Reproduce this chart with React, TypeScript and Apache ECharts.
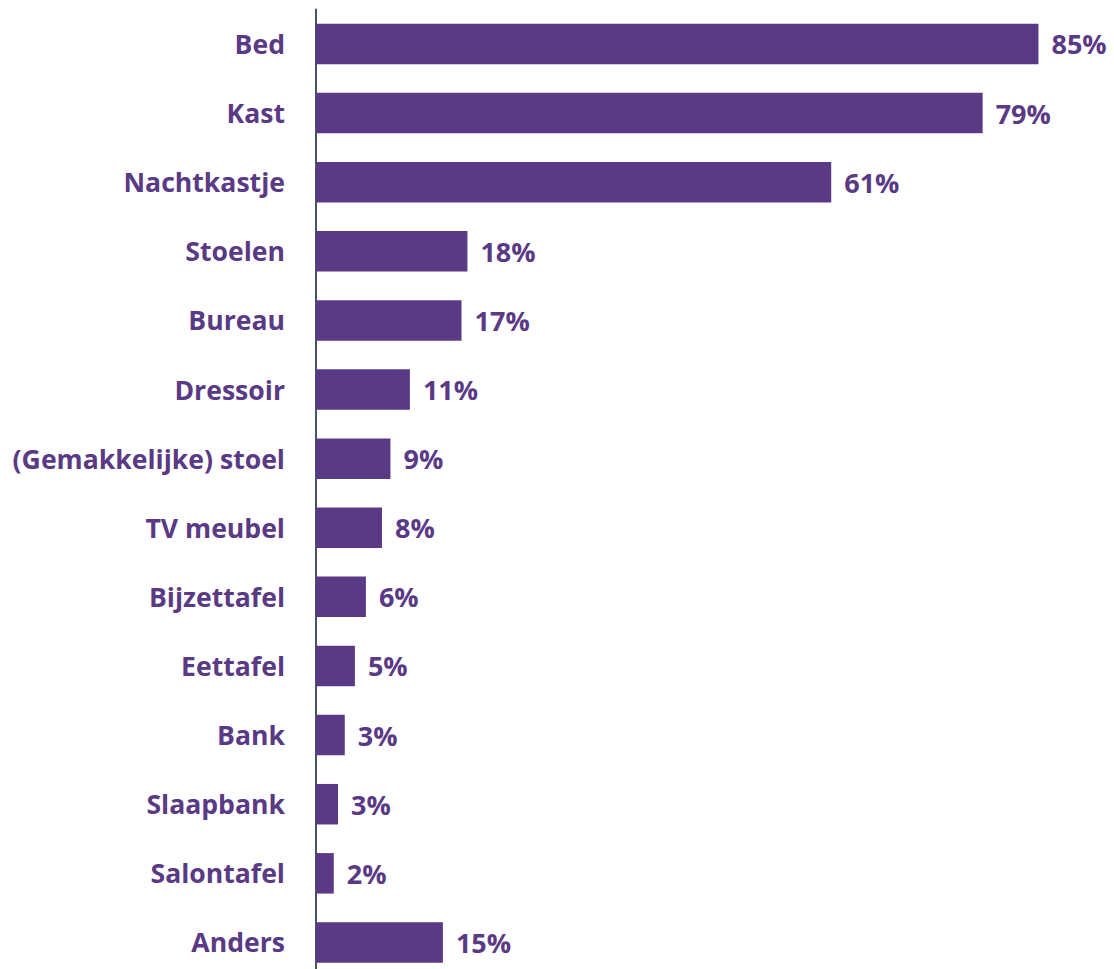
import React, { useEffect, useRef } from "react";
import * as echarts from "echarts";

const categories = [
  "Bed",
  "Kast",
  "Nachtkastje",
  "Stoelen",
  "Bureau",
  "Dressoir",
  "(Gemakkelijke) stoel",
  "TV meubel",
  "Bijzettafel",
  "Eettafel",
  "Bank",
  "Slaapbank",
  "Salontafel",
  "Anders",
];

const values = [85.4, 78.8, 60.9, 17.9, 17.2, 11.1, 8.8, 7.8, 5.9, 4.6, 3.4, 2.6, 2.1, 15.0];

const PURPLE = "#5A3A85";
const AXIS = "#44546A";
const FONT = "'Open Sans', Lato, sans-serif";

export default function App() {
  const ref = useRef<HTMLDivElement>(null);
  useEffect(() => {
    if (!ref.current) return;
    const chart = echarts.init(ref.current, undefined, { renderer: "svg" });
    chart.setOption({
      animation: false,
      grid: {
        left: 316,
        top: 9.4,
        width: 761.4,
        height: 967.6,
        containLabel: false,
      },
      xAxis: {
        type: "value",
        min: 0,
        max: 90,
        show: false,
      },
      yAxis: {
        type: "category",
        data: categories,
        inverse: true,
        axisLine: { show: true, lineStyle: { color: AXIS, width: 2 } },
        axisTick: { show: false },
        axisLabel: {
          margin: 31,
          color: PURPLE,
          fontFamily: FONT,
          fontWeight: "bold",
          fontSize: 26.6,
        },
      },
      series: [
        {
          type: "bar",
          data: values,
          barWidth: 40.5,
          itemStyle: { color: PURPLE },
          label: {
            show: true,
            position: "right",
            distance: 13,
            color: PURPLE,
            fontFamily: FONT,
            fontWeight: "bold",
            fontSize: 27,
            formatter: (p: any) => Math.round(p.value) + "%",
          },
        },
      ],
    });
    return () => chart.dispose();
  }, []);
  return (
    <div
      style={{ position: "absolute", left: 0, top: 0, width: 1114, height: 969, overflow: "hidden" }}
    >
      <div ref={ref} style={{ width: 1114, height: 1000 }} />
    </div>
  );
}
